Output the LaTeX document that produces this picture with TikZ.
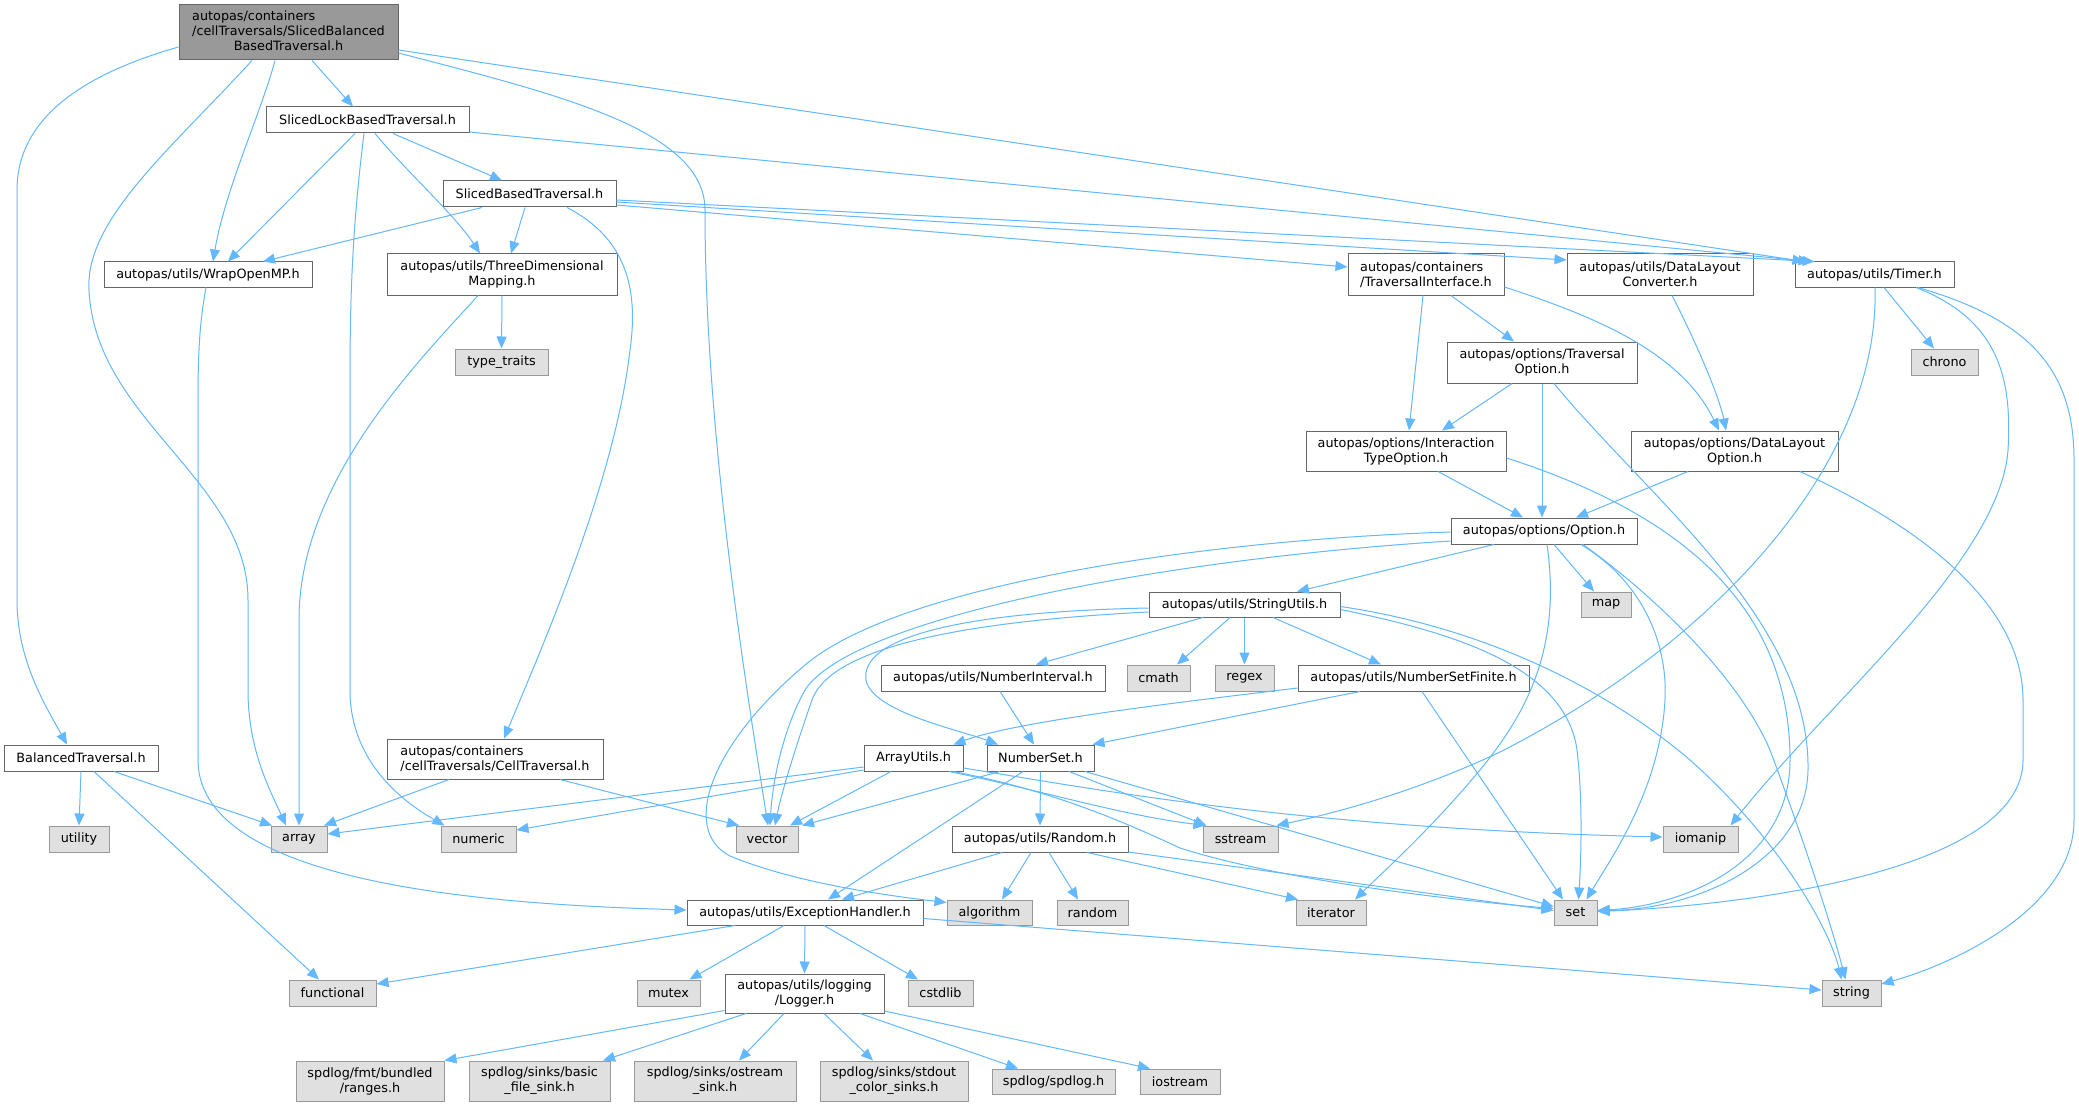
\documentclass[tikz,border=0pt]{standalone}
\usepackage{fontspec}
\setmainfont{DejaVu Sans}
\usetikzlibrary{arrows.meta}
\definecolor{edgec}{HTML}{63B8FF}
\definecolor{bd}{HTML}{666666}
\definecolor{gbd}{HTML}{999999}
\definecolor{gfill}{HTML}{E0E0E0}
\definecolor{mainfill}{HTML}{999999}
\begin{document}
\begin{tikzpicture}[x=1pt,y=-1pt,
  wb/.style={draw=bd, fill=white, line width=1pt, inner sep=0pt, align=center,
    font=\fontsize{12.8}{15}\selectfont},
  sb/.style={wb, draw=gbd, fill=gfill},
  mb/.style={wb, fill=mainfill},
  sz/.style 2 args={minimum width=#1pt, minimum height=#2pt},
  e/.style={draw=edgec, line width=1pt, -{Triangle[length=12pt,width=10pt]}}]
\useasboundingbox[fill=white] (0,0) rectangle (2079,1107);
% nodes
\node[mb, sz={219}{55}] (main) at (288.5,32.5) {\begin{tabular}{@{}l@{}}autopas/containers\\/cellTraversals/SlicedBalanced\\\multicolumn{1}{@{}c@{}}{BasedTraversal.h}\end{tabular}};
\node[wb, sz={203}{26}] (slbt) at (367.5,120) {SlicedLockBasedTraversal.h};
\node[wb, sz={173}{26}] (sbt) at (529.5,194) {SlicedBasedTraversal.h};
\node[wb, sz={208}{25}] (wrap) at (208,274.5) {autopas/utils/WrapOpenMP.h};
\node[wb, sz={230}{41}] (tdm) at (502,274.5) {autopas/utils/ThreeDimensional\\Mapping.h};
\node[sb, sz={93}{26}] (tt) at (501.5,362) {type\_traits};
\node[wb, sz={156}{41}, align=left] (ti) at (1426,274.5) {autopas/containers\\/TraversalInterface.h};
\node[wb, sz={186}{41}] (dlc) at (1660,274.5) {autopas/utils/DataLayout\\Converter.h};
\node[wb, sz={159}{25}] (timer) at (1874.5,274.5) {autopas/utils/Timer.h};
\node[sb, sz={67}{26}] (chrono) at (1944.5,362) {chrono};
\node[wb, sz={190}{41}] (to) at (1542,362.5) {autopas/options/Traversal\\Option.h};
\node[wb, sz={200}{40}] (ito) at (1406,451) {autopas/options/Interaction\\TypeOption.h};
\node[wb, sz={207}{40}] (dlo) at (1734.5,451) {autopas/options/DataLayout\\Option.h};
\node[wb, sz={186}{26}] (opt) at (1544,531) {autopas/options/Option.h};
\node[sb, sz={50}{25}] (map) at (1606,604.5) {map};
\node[wb, sz={191}{25}] (su) at (1244.5,604.5) {autopas/utils/StringUtils.h};
\node[wb, sz={224}{26}] (ni) at (993,678) {autopas/utils/NumberInterval.h};
\node[sb, sz={63}{26}] (cmath) at (1158.5,678) {cmath};
\node[sb, sz={59}{26}] (regex) at (1244.5,678) {regex};
\node[wb, sz={231}{26}] (nsf) at (1413.5,678) {autopas/utils/NumberSetFinite.h};
\node[wb, sz={154}{26}] (bt) at (81,758) {BalancedTraversal.h};
\node[wb, sz={216}{40}, align=left] (ct) at (495,759) {autopas/containers\\/cellTraversals/CellTraversal.h};
\node[wb, sz={99}{26}] (au) at (913.5,758) {ArrayUtils.h};
\node[wb, sz={107}{26}] (ns) at (1040.5,758) {NumberSet.h};
\node[sb, sz={60}{26}] (utility) at (79,839) {utility};
\node[sb, sz={56}{26}] (array) at (299,839) {array};
\node[sb, sz={75}{26}] (numeric) at (478.5,839) {numeric};
\node[sb, sz={62}{26}] (vector) at (767,839) {vector};
\node[wb, sz={176}{26}] (rnd) at (1040,839) {autopas/utils/Random.h};
\node[sb, sz={75}{26}] (sstream) at (1240.5,839) {sstream};
\node[sb, sz={75}{26}] (iomanip) at (1700.5,839) {iomanip};
\node[wb, sz={236}{25}] (eh) at (805,912.5) {autopas/utils/ExceptionHandler.h};
\node[sb, sz={85}{25}] (algorithm) at (989.5,912.5) {algorithm};
\node[sb, sz={71}{25}] (randomstd) at (1092.5,912.5) {random};
\node[sb, sz={70}{25}] (iterator) at (1331,912.5) {iterator};
\node[sb, sz={43}{25}] (set) at (1575.5,912.5) {set};
\node[sb, sz={87}{26}] (functional) at (332.5,993) {functional};
\node[sb, sz={63}{26}] (mutex) at (668.5,993) {mutex};
\node[wb, sz={159}{39}] (logger) at (804.5,993.5) {autopas/utils/logging\\/Logger.h};
\node[sb, sz={65}{26}] (cstdlib) at (940.5,993) {cstdlib};
\node[sb, sz={59}{26}] (string) at (1851.5,993) {string};
\node[sb, sz={148}{40}] (ranges) at (370,1081) {spdlog/fmt/bundled\\/ranges.h};
\node[sb, sz={141}{40}] (basic) at (539.5,1081) {spdlog/sinks/basic\\\_file\_sink.h};
\node[sb, sz={162}{40}] (ostream) at (715,1081) {spdlog/sinks/ostream\\\_sink.h};
\node[sb, sz={148}{40}] (stdout) at (894,1081) {spdlog/sinks/stdout\\\_color\_sinks.h};
\node[sb, sz={123}{25}] (spdlog) at (1053.5,1081.5) {spdlog/spdlog.h};
\node[sb, sz={80}{25}] (iostream) at (1180,1081.5) {iostream};
% main
\draw[e] ([xshift=23.5pt]main.south) -- ([xshift=-14.5pt]slbt.north);
\draw[e] ([xshift=-13.5pt]main.south) .. controls (262,110) and (225,190) .. ([xshift=5pt]wrap.north);
\draw[e] ([xshift=-36.5pt]main.south) .. controls (170,150) and (85,220) .. (89,290) .. controls (95,420) and (248,480) .. (248,600) -- (248,690) .. controls (248,750) and (270,790) .. ([xshift=-13pt]array.north);
\draw[e] ([yshift=-20.5pt]main.east) .. controls (560,95) and (705,130) .. (705,210) .. controls (705,420) and (740,650) .. ([xshift=1pt]vector.north);
\draw[e] ([yshift=-17.5pt]main.east) -- ([xshift=-70pt]timer.north);
\draw[e] ([yshift=-14.5pt]main.west) .. controls (80,75) and (17,120) .. (17,190) -- (17,600) .. controls (17,660) and (45,705) .. ([xshift=-14pt]bt.north);
% SlicedLockBasedTraversal
\draw[e] ([xshift=-12.5pt]slbt.south) -- ([xshift=20pt]wrap.north);
\draw[e] ([xshift=-3.5pt]slbt.south) .. controls (352,230) and (350,300) .. (350,380) -- (350,690) .. controls (350,760) and (400,800) .. ([xshift=-34pt]numeric.north);
\draw[e] ([xshift=7.5pt]slbt.south) .. controls (405,170) and (455,215) .. ([xshift=-22pt]tdm.north);
\draw[e] ([xshift=25.5pt]slbt.south) -- ([xshift=-27.5pt]sbt.north);
\draw[e] ([yshift=-12pt]slbt.east) -- ([xshift=-64pt]timer.north);
% SlicedBasedTraversal
\draw[e] ([xshift=-47.5pt]sbt.south) -- ([xshift=55pt]wrap.north);
\draw[e] ([xshift=-4.5pt]sbt.south) -- ([xshift=9pt]tdm.north);
\draw[e] ([xshift=37.5pt]sbt.south) .. controls (620,235) and (640,280) .. (630,350) .. controls (615,480) and (545,640) .. ([xshift=9pt]ct.north);
\draw[e] ([yshift=-11pt]sbt.east) -- ([yshift=7.5pt]ti.west);
\draw[e] ([yshift=-8pt]sbt.east) -- ([yshift=14.5pt]dlc.west);
\draw[e] ([yshift=-6pt]sbt.east) -- ([xshift=-60pt]timer.north);
% WrapOpenMP
\draw[e] ([xshift=-2pt]wrap.south) .. controls (200,320) and (198,350) .. (198,400) -- (198,760) .. controls (198,890) and (520,905) .. ([yshift=2.5pt]eh.west);
% ThreeDimensionalMapping
\draw[e] (tdm.south) -- (tt.north);
\draw[e] ([xshift=-24pt]tdm.south) .. controls (420,360) and (299,480) .. (299,620) -- (array.north);
% CellTraversal
\draw[e] ([xshift=-46pt]ct.south) -- ([xshift=25pt]array.north);
\draw[e] ([xshift=65pt]ct.south) -- ([xshift=-28pt]vector.north);
% BalancedTraversal
\draw[e] (bt.south) -- (utility.north);
\draw[e] ([xshift=33pt]bt.south) -- ([xshift=-27pt]array.north);
\draw[e] ([xshift=13pt]bt.south) -- ([xshift=-13.5pt]functional.north);
% TraversalInterface
\draw[e] ([xshift=-3pt]ti.south) -- ([xshift=3pt]ito.north);
\draw[e] ([xshift=25pt]ti.south) -- ([xshift=-28pt]to.north);
\draw[e] ([yshift=-12.5pt]ti.east) .. controls (1590,315) and (1680,350) .. ([xshift=-15.5pt]dlo.north);
% DataLayoutConverter
\draw[e] ([xshift=12pt]dlc.south) .. controls (1700,350) and (1720,400) .. ([xshift=-8.5pt]dlo.north);
% Timer
\draw[e] ([xshift=9.5pt]timer.south) -- ([xshift=-10.5pt]chrono.north);
\draw[e] ([xshift=0.5pt]timer.south) .. controls (1880,460) and (1720,640) .. (1500,752) .. controls (1420,790) and (1340,812) .. ([xshift=36pt]sstream.north);
\draw[e] ([xshift=41.5pt]timer.south) .. controls (2000,320) and (2012,380) .. (2008,450) .. controls (2000,560) and (1830,700) .. ([xshift=30pt]iomanip.north);
\draw[e] ([xshift=43.5pt]timer.south) .. controls (2030,320) and (2074,370) .. (2074,460) -- (2074,820) .. controls (2074,910) and (1950,965) .. ([yshift=9pt]string.east);
% InteractionTypeOption
\draw[e] ([xshift=32pt]ito.south) -- ([xshift=-21pt]opt.north);
\draw[e] ([yshift=-7pt]ito.east) .. controls (1700,520) and (1790,620) .. (1790,760) .. controls (1790,860) and (1690,905) .. ([yshift=2pt]set.east);
% TraversalOption
\draw[e] ([xshift=-30pt]to.south) -- ([xshift=36pt]ito.north);
\draw[e] (to.south) -- ([xshift=-2pt]opt.north);
\draw[e] ([xshift=12pt]to.south) .. controls (1650,500) and (1810,620) .. (1808,770) .. controls (1806,865) and (1690,910) .. ([yshift=2pt]set.east);
% DataLayoutOption
\draw[e] ([xshift=-46.5pt]dlo.south) -- ([xshift=32pt]opt.north);
\draw[e] ([xshift=65.5pt]dlo.south) .. controls (1950,540) and (2023,620) .. (2023,700) -- (2023,760) .. controls (2023,870) and (1750,905) .. ([yshift=1pt]set.east);
% Option
\draw[e] ([xshift=-50pt]opt.south) -- ([xshift=52.5pt]su.north);
\draw[e] ([xshift=10pt]opt.south) -- ([xshift=-12pt]map.north);
\draw[e] ([yshift=-1pt]opt.west) .. controls (1200,540) and (900,585) .. (805,665) .. controls (710,745) and (680,830) .. (730,856) .. controls (800,885) and (900,897) .. ([yshift=10pt]algorithm.west);
\draw[e] ([yshift=-10pt]opt.west) .. controls (1150,560) and (850,620) .. (805,690) .. controls (780,735) and (772,790) .. ([xshift=3pt]vector.north);
\draw[e] ([xshift=3pt]opt.south) .. controls (1562,650) and (1525,715) .. (1480,770) .. controls (1430,830) and (1385,870) .. ([xshift=24pt]iterator.north);
\draw[e] ([xshift=37pt]opt.south) .. controls (1640,580) and (1668,640) .. (1665,700) .. controls (1660,790) and (1610,860) .. ([xshift=11pt]set.north);
\draw[e] ([xshift=39pt]opt.south) .. controls (1660,600) and (1740,680) .. (1770,750) .. controls (1800,830) and (1830,920) .. ([xshift=-6pt]string.north);
% StringUtils
\draw[e] ([xshift=-41.5pt]su.south) -- ([xshift=43pt]ni.north);
\draw[e] ([xshift=-14.5pt]su.south) -- ([xshift=18.5pt]cmath.north);
\draw[e] (su.south) -- (regex.north);
\draw[e] ([xshift=28.5pt]su.south) -- ([xshift=-32.5pt]nsf.north);
\draw[e] ([yshift=-3.5pt]su.west) .. controls (950,612) and (860,640) .. (866,680) .. controls (872,712) and (960,730) .. ([xshift=-42.5pt]ns.north);
\draw[e] ([yshift=-7.5pt]su.west) .. controls (950,622) and (830,650) .. (812,700) .. controls (798,740) and (782,790) .. ([xshift=8pt]vector.north);
\draw[e] ([yshift=-5pt]su.east) .. controls (1450,632) and (1565,665) .. (1577,750) .. controls (1583,800) and (1581,860) .. ([xshift=3pt]set.north);
\draw[e] ([yshift=-2pt]su.east) .. controls (1500,630) and (1620,700) .. (1690,760) .. controls (1780,840) and (1830,930) .. ([xshift=-10pt]string.north);
% NumberInterval, NumberSetFinite
\draw[e] ([xshift=7pt]ni.south) -- ([xshift=-6.5pt]ns.north);
\draw[e] ([yshift=-10pt]nsf.west) .. controls (1200,700) and (1020,720) .. ([xshift=40pt]au.north);
\draw[e] ([xshift=-53.5pt]nsf.south) -- ([xshift=52pt]ns.north);
\draw[e] ([xshift=8.5pt]nsf.south) -- ([xshift=-12.5pt]set.north);
% ArrayUtils
\draw[e] ([yshift=-9pt]au.west) -- ([yshift=5pt]array.east);
\draw[e] ([yshift=-12pt]au.west) -- ([yshift=9pt]numeric.east);
\draw[e] ([xshift=-22.5pt]au.south) -- ([xshift=23pt]vector.north);
\draw[e] ([xshift=35.5pt]au.south) .. controls (1040,790) and (1120,815) .. ([xshift=-35pt]sstream.north);
\draw[e] ([xshift=39.5pt]au.south) .. controls (1050,790) and (1120,820) .. (1180,848) .. controls (1280,880) and (1450,900) .. ([yshift=4pt]set.west);
\draw[e] ([yshift=-10pt]au.east) .. controls (1100,790) and (1300,828) .. ([yshift=2pt]iomanip.west);
% NumberSet
\draw[e] ([xshift=-40.5pt]ns.south) -- ([xshift=35pt]vector.north);
\draw[e] ([xshift=-17.5pt]ns.south) -- ([xshift=23pt]eh.north);
\draw[e] (ns.south) -- (rnd.north);
\draw[e] ([xshift=28.5pt]ns.south) -- ([xshift=-34pt]sstream.north);
\draw[e] ([xshift=44.5pt]ns.south) -- ([yshift=6pt]set.west);
% Random
\draw[e] ([xshift=-38pt]rnd.south) -- ([xshift=37pt]eh.north);
\draw[e] ([xshift=-9pt]rnd.south) -- ([xshift=12.5pt]algorithm.north);
\draw[e] ([xshift=9pt]rnd.south) -- ([xshift=-14.5pt]randomstd.north);
\draw[e] ([xshift=47pt]rnd.south) -- ([xshift=-33pt]iterator.north);
\draw[e] ([yshift=-13pt]rnd.east) -- ([yshift=2pt]set.west);
% ExceptionHandler
\draw[e] ([xshift=-70pt]eh.south) -- ([yshift=9pt]functional.east);
\draw[e] ([xshift=-21pt]eh.south) -- ([xshift=21pt]mutex.north);
\draw[e] (eh.south) -- (logger.north);
\draw[e] ([xshift=19pt]eh.south) -- ([xshift=-22.5pt]cstdlib.north);
\draw[e] ([yshift=-6pt]eh.east) -- ([yshift=3pt]string.west);
% Logger
\draw[e] ([yshift=-17pt]logger.west) -- (ranges.north east);
\draw[e] ([xshift=-58.5pt]logger.south) -- ([xshift=63.5pt]basic.north);
\draw[e] ([xshift=-20.5pt]logger.south) -- ([xshift=24pt]ostream.north);
\draw[e] ([xshift=19.5pt]logger.south) -- ([xshift=-21pt]stdout.north);
\draw[e] ([xshift=55.5pt]logger.south) -- ([xshift=-35.5pt]spdlog.north);
\draw[e] ([yshift=-17.5pt]logger.east) -- ([xshift=-30pt]iostream.north);
\end{tikzpicture}
\end{document}
